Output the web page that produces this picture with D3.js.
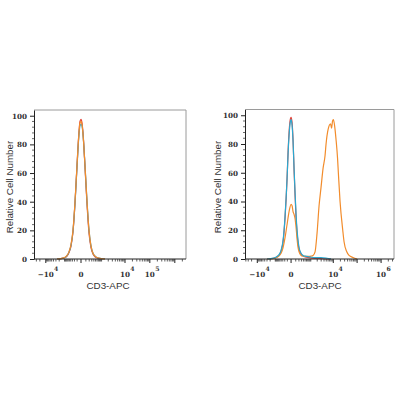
<!DOCTYPE html>
<html><head><meta charset="utf-8">
<script src="https://cdn.jsdelivr.net/npm/d3@7"></script>
<style>body{margin:0;background:#fff}</style></head>
<body><svg id="c" width="400" height="400"></svg>
<script>
// ---------- data ----------
const yTicks = [0, 20, 40, 60, 80, 100];
const leftXTickLabels = [-1e4, 0, 1e4, 1e5];
const rightXTickLabels = [-1e4, 0, 1e4, 1e6];
const majorXTicks = [-1e4, 0, 1e4, 1e5, 1e6];
const xTitle = "CD3-APC";
const yTitle = "Relative Cell Number";

// left panel histograms
const leftX = [-2628,-1593,-940,-710,-528,-383,-268,-176,-104,-46,-22,0,17,36,79,131,193,268,357,466,596,940,1437];
const leftRedY    = [0,0.2,1,2,4.5,9,19,39,65,89,96,97.5,95,88,64,38,18,8,3.5,1.5,0.8,0.2,0];
const leftCyanY   = [0,0.2,1,2.3,4.8,9.5,19.5,39,64,87,93,94,93,87,65,40,20,9,4,2,1,0.3,0];
const leftOrangeY = [0,0.3,1.2,2.5,5,10,20,40,65,88,95,96,94,87,65,40,20,9,4,2,1,0.3,0];

// right panel histograms
const rightX = [-2971,-1772,-1029,-569,-410,-285,-233,-186,-109,-77,-48,-23,0,18,37,59,83,109,138,169,204,285,383,501,818,1593,2971,5420,8039];
const rightCyanY = [0,0.3,1,3,6,13,20,30,56,73,86,94,97,93,82,63,46,31,20,13,8,4,2.5,2,1.5,1,1,0.5,0];
const rightRedY  = [0,0.2,0.8,2.5,5.5,12,19,29,56,74,88,96,98.5,95,83,62,44,29,18,11,7,3.5,2,1.5,1,0.5,0.3,0,0];
const rightOrangeX = [-2971,-1356,-772,-410,-285,-186,-109,-48,0,18,37,59,83,109,138,169,204,285,383,501,818,1029,1284,1593,1967,2421,2971,3636,4443,4908,5984,7654,8443,9312,10068,11318,13096,15151,16373,19309,25063,28430,36893,46020,67636,99358];
const rightOrangeY = [0,0.3,1.2,4,8,15,24,33,38,37,33,31,28,22,14,8,5,2.5,2,1.8,1.8,2,2.5,5,18,37,50,63,72,80,90,94,91,96,97,93,83,70,60,40,20,12,5,2.5,1,0];

const colors = {red:"#e2443a", cyan:"#2aa8d0", orange:"#f28c2c"};

// ---------- drawing ----------
const svg = d3.select("#c");
const C = 177, NEG = 0.8;
const T = v => v >= 0 ? Math.log10(1 + v / C) : -NEG * Math.log10(1 - v / C);

const panels = [
  {x0:34, x1:186, y0:110, y1:259, domain:[-39450, 2.8e6], labels:leftXTickLabels, ylabX:9, xlabX:108,
   series:[[leftX,leftRedY,colors.red],[leftX,leftCyanY,colors.cyan],[leftX,leftOrangeY,colors.orange]]},
  {x0:245, x1:394, y0:109.5, y1:259, domain:[-44280, 3.45e6], labels:rightXTickLabels, ylabX:217, xlabX:320,
   series:[[rightX,rightRedY,colors.red],[rightOrangeX,rightOrangeY,colors.orange],[rightX,rightCyanY,colors.cyan]]}
];

const minorX = [];
for (let k = 2; k <= 6; k++) for (let m = 1; m <= 9; m++) {
  const v = m * Math.pow(10, k);
  if (!majorXTicks.includes(v)) minorX.push(v);
  if (k <= 4 && !majorXTicks.includes(-v)) minorX.push(-v);
}

function fmt(v){ if (v === 0) return {base:"0", sup:""}; const e = Math.round(Math.log10(Math.abs(v))); return {base:(v<0?"\u221210":"10"), sup:String(e)}; }

panels.forEach(p => {
  const lin = d3.scaleLinear().domain(p.domain.map(T)).range([p.x0, p.x1]);
  const x = v => lin(T(v));
  const y = d3.scaleLinear().domain([0, 104]).range([p.y1, p.y0]);
  const g = svg.append("g");

  // frame top/right
  g.append("path").attr("d", `M${p.x0},${p.y0}H${p.x1}V${p.y1}`).attr("fill","none").attr("stroke","#9a9a9a").attr("stroke-width",1);

  // curves
  const line = d3.line().curve(d3.curveMonotoneX);
  p.series.forEach(([xs, ys, col]) => {
    const pts = xs.map((v,i) => [x(v), y(ys[i])]);
    g.append("path").attr("d", line(pts)).attr("fill","none").attr("stroke",col).attr("stroke-width",1.2);
  });

  // y axis
  const ya = d3.axisLeft(y).tickValues(yTicks).tickSize(4).tickSizeOuter(0).tickPadding(3);
  const yg = g.append("g").attr("transform", `translate(${p.x0},0)`).call(ya);
  yg.select(".domain").attr("stroke","#222");
  yg.selectAll(".tick line").attr("stroke","#222");
  yg.selectAll("text").attr("font-family","DejaVu Serif").attr("font-weight","bold").attr("font-size",7.2).attr("fill","#333");
  const yMinor = d3.range(0, 101, 4).filter(v => !yTicks.includes(v));
  g.selectAll(null).data(yMinor).join("line")
    .attr("x1", p.x0).attr("x2", p.x0 - 2).attr("y1", d => y(d)).attr("y2", d => y(d)).attr("stroke","#444").attr("stroke-width",0.8);

  // x axis
  g.append("line").attr("x1", p.x0).attr("x2", p.x1).attr("y1", p.y1).attr("y2", p.y1).attr("stroke","#222");
  g.selectAll(null).data(minorX.filter(v => v > p.domain[0] && v < p.domain[1])).join("line")
    .attr("x1", d => x(d)).attr("x2", d => x(d)).attr("y1", p.y1).attr("y2", p.y1 + 2.5).attr("stroke","#333").attr("stroke-width",0.8);
  g.selectAll(null).data(majorXTicks).join("line")
    .attr("x1", d => x(d)).attr("x2", d => x(d)).attr("y1", p.y1).attr("y2", p.y1 + 4).attr("stroke","#222").attr("stroke-width",1);
  p.labels.forEach(v => {
    const f = fmt(v);
    const t = g.append("text").attr("x", x(v)).attr("y", 277).attr("text-anchor","middle")
      .attr("font-family","DejaVu Serif").attr("font-weight","bold").attr("font-size",7.2).attr("fill","#333").text(f.base);
    if (f.sup) {
      const w = t.node().getComputedTextLength();
      g.append("text").attr("x", x(v) + w/2 + 0.3).attr("y", 270.5).attr("font-family","DejaVu Serif").attr("font-weight","bold")
        .attr("font-size",6.2).attr("fill","#333").text(f.sup);
    }
  });

  // titles
  g.append("text").attr("x", p.xlabX).attr("y", 289).attr("text-anchor","middle")
    .attr("font-family","Liberation Sans").attr("font-size",9.8).attr("fill","#333").text(xTitle);
  g.append("text").attr("transform", `translate(${p.ylabX + 3.5},187) rotate(-90)`).attr("text-anchor","middle")
    .attr("font-family","Liberation Sans").attr("font-size",9.8).attr("fill","#333").text(yTitle);
});
</script>
</body></html>
